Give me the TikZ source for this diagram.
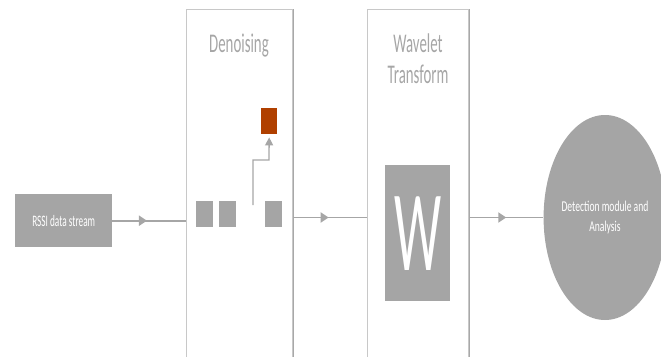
\documentclass[tikz,border=0pt]{standalone}
\usepackage{fontspec}
\setmainfont{Carlito}
\usetikzlibrary{arrows.meta,decorations.markings,shapes.geometric}
\definecolor{boxgray}{HTML}{A5A5A5}
\definecolor{linegray}{HTML}{A6A6A6}
\definecolor{panelgray}{HTML}{C8C8C8}
\definecolor{paneldark}{HTML}{A8A8A8}
\definecolor{rust}{HTML}{B04000}
\definecolor{titlegray}{HTML}{A6A6A6}
\newcommand\sqz[2][0.6]{\scalebox{#1}[1]{#2}}
\begin{document}
\begin{tikzpicture}[x=1pt,y=-1pt,
  graybox/.style={fill=boxgray, draw=none, inner sep=0pt, anchor=north west},
  panel/.style={draw=panelgray, line width=1.2pt, inner sep=0pt, anchor=north west},
  flow/.style={draw=linegray, line width=1.8pt, postaction={decorate},
    decoration={markings, mark=at position #1 with {\arrow{Triangle[length=8pt,width=10pt]}}}},
  title/.style={text=titlegray, font=\fontsize{27}{31}\selectfont, align=center},
]
\useasboundingbox (0,0) rectangle (661,356);
% panels
\node[panel, minimum width=106pt, minimum height=360pt] (den) at (186,9) {};
\node[panel, minimum width=101pt, minimum height=360pt] (wav) at (367,9) {};
\draw[paneldark, line width=1pt] (den.north east) -- (den.south east);
\draw[paneldark, line width=1pt] (wav.north east) -- (wav.south east);
% titles
\node[title] (dentitle) at (239,46) {\sqz[0.55]{Denoising}};
\node[title] (wavtitle) at (418,59) {\sqz[0.55]{Wavelet}\\\sqz[0.55]{Transform}};
% input box
\node[graybox, minimum width=97pt, minimum height=53pt, text=white,
  font=\fontsize{16}{19}\selectfont] (rssi) at (15,194) {\sqz[0.58]{RSSI data stream}};
% denoising blocks
\node[graybox, minimum width=17pt, minimum height=26pt] (sqa) at (196,201) {};
\node[graybox, minimum width=17pt, minimum height=26pt] (sqb) at (219,201) {};
\node[graybox, minimum width=17pt, minimum height=26pt] (sqc) at (265,201) {};
\node[fill=rust, inner sep=0pt, anchor=north west, minimum width=16pt, minimum height=26pt] (out) at (261,108) {};
% wavelet box
\node[graybox, minimum width=65pt, minimum height=136pt, text=white,
  font=\fontsize{115}{120}\selectfont] (wbox) at (385,165) {\sqz[0.46]{W}};
% detection ellipse
\node[ellipse, fill=boxgray, inner sep=0pt, minimum width=100pt, minimum height=205pt,
  text=white, font=\fontsize{15}{20}\selectfont] (ell) at (605,217.5)
  {\sqz[0.64]{\begin{tabular}{@{}c@{}}Detection module and\\Analysis\end{tabular}}};
% connectors
\draw[flow=0.47] (rssi.east) -- (rssi.east -| den.west);
\draw[flow=0.48] (den.east |- ell.west) -- (wav.west |- ell.west);
\draw[flow=0.5] (wav.east |- ell.west) -- (ell.west);
\coordinate (elstart) at (253,205);
\coordinate (bend) at (269,160);
\draw[linegray, line width=1.3pt, -{Triangle[length=8pt,width=8pt]}, shorten >=3pt]
  (elstart) |- (bend) -- (out.south);
\end{tikzpicture}
\end{document}
